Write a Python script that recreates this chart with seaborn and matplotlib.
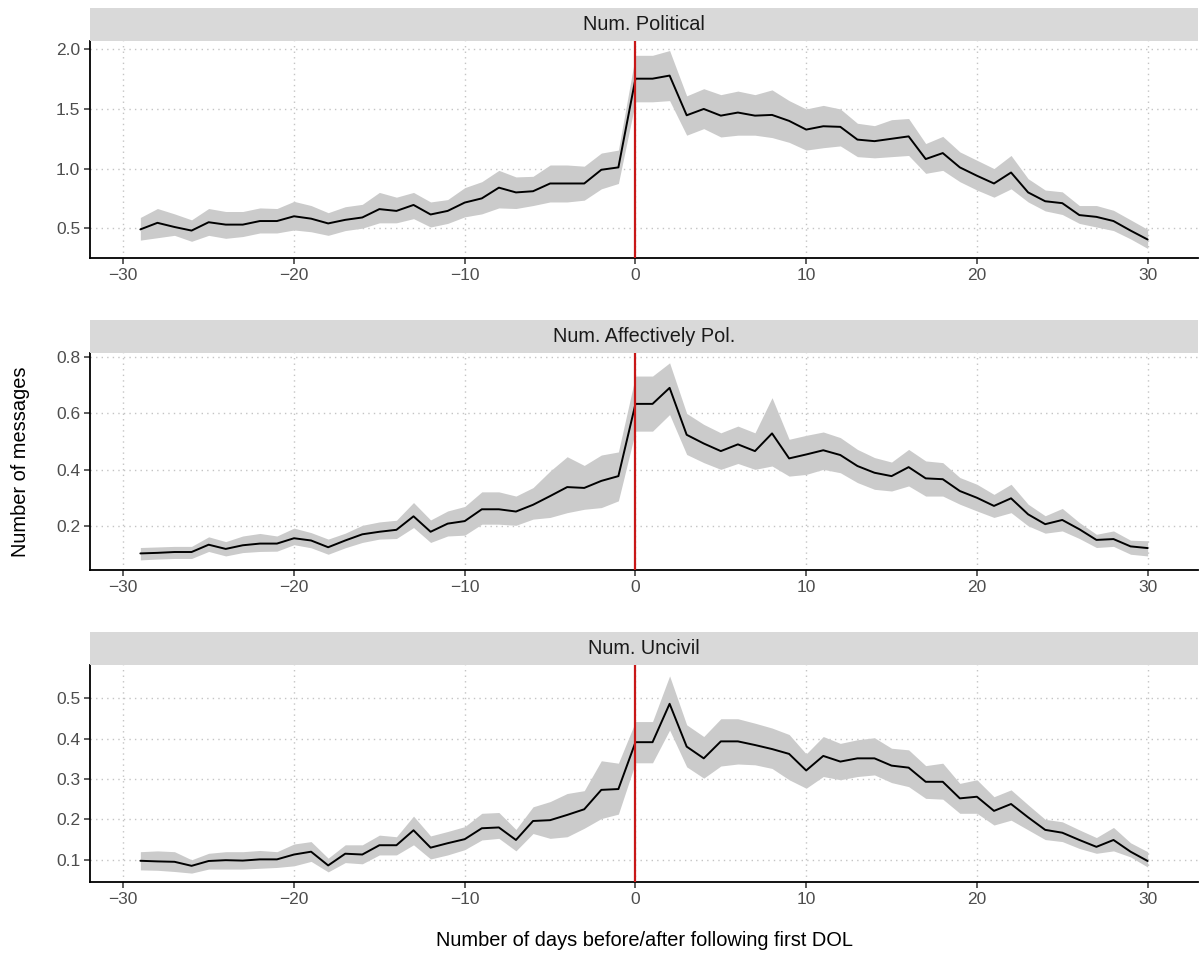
import matplotlib
matplotlib.use("Agg")
import matplotlib.pyplot as plt
import seaborn as sns
import pandas as pd
import numpy as np

# ---------------- data ----------------
days = list(range(-29, 31))

panel_titles = ["Num. Political", "Num. Affectively Pol.", "Num. Uncivil"]

political = [0.49, 0.545, 0.51, 0.48, 0.55, 0.53, 0.53, 0.56, 0.56, 0.60, 0.58, 0.54, 0.57, 0.59, 0.66,
             0.645, 0.695, 0.615, 0.645, 0.715, 0.75, 0.84, 0.80, 0.81, 0.875, 0.875, 0.875, 0.99, 1.01,
             1.754, 1.754, 1.78, 1.447, 1.50, 1.444, 1.47, 1.444, 1.45, 1.40,
             1.327, 1.355, 1.35, 1.243, 1.23, 1.25, 1.27, 1.08, 1.13, 1.01, 0.94, 0.875, 0.967, 0.80,
             0.726, 0.71, 0.61, 0.595, 0.56, 0.48, 0.405]
political_lo = [0.40, 0.42, 0.44, 0.39, 0.44, 0.415, 0.43, 0.46, 0.46, 0.485, 0.47, 0.44, 0.48, 0.50, 0.545,
                0.545, 0.58, 0.51, 0.54, 0.595, 0.62, 0.67, 0.665, 0.69, 0.72, 0.72, 0.735, 0.83, 0.875,
                1.56, 1.56, 1.57, 1.28, 1.335, 1.265, 1.28, 1.28, 1.26, 1.22,
                1.155, 1.175, 1.19, 1.10, 1.09, 1.10, 1.11, 0.96, 0.985, 0.89, 0.82, 0.76, 0.83, 0.72,
                0.645, 0.615, 0.54, 0.51, 0.48, 0.41, 0.33]
political_hi = [0.59, 0.665, 0.62, 0.57, 0.665, 0.64, 0.64, 0.67, 0.665, 0.725, 0.69, 0.63, 0.68, 0.70, 0.80,
                0.76, 0.80, 0.72, 0.74, 0.84, 0.89, 0.985, 0.93, 0.935, 1.03, 1.03, 1.02, 1.13, 1.155,
                1.95, 1.95, 1.99, 1.61, 1.67, 1.62, 1.65, 1.62, 1.66, 1.57,
                1.50, 1.53, 1.50, 1.38, 1.36, 1.41, 1.42, 1.21, 1.27, 1.14, 1.07, 1.00, 1.11, 0.915,
                0.82, 0.805, 0.69, 0.69, 0.65, 0.57, 0.49]

affective = [0.102, 0.104, 0.107, 0.107, 0.133, 0.118, 0.131, 0.137, 0.137, 0.156, 0.148, 0.124, 0.148, 0.17, 0.179,
             0.186, 0.234, 0.179, 0.208, 0.217, 0.259, 0.259, 0.251, 0.275, 0.306, 0.338, 0.335, 0.36, 0.377,
             0.634, 0.634, 0.691, 0.524, 0.493, 0.466, 0.49, 0.466, 0.529, 0.44,
             0.454, 0.469, 0.452, 0.413, 0.389, 0.377, 0.409, 0.369, 0.366, 0.324, 0.30, 0.271, 0.298, 0.241,
             0.206, 0.221, 0.188, 0.15, 0.153, 0.127, 0.121]
affective_lo = [0.079, 0.082, 0.084, 0.084, 0.109, 0.093, 0.105, 0.109, 0.11, 0.133, 0.122, 0.099, 0.122, 0.141, 0.153,
                0.155, 0.194, 0.141, 0.164, 0.167, 0.206, 0.206, 0.202, 0.224, 0.23, 0.247, 0.259, 0.265, 0.289,
                0.537, 0.537, 0.596, 0.454, 0.425, 0.401, 0.422, 0.401, 0.413, 0.377,
                0.383, 0.401, 0.389, 0.354, 0.33, 0.324, 0.342, 0.306, 0.306, 0.277, 0.253, 0.23, 0.247, 0.20,
                0.174, 0.182, 0.155, 0.123, 0.127, 0.099, 0.093]
affective_hi = [0.123, 0.125, 0.127, 0.127, 0.161, 0.144, 0.164, 0.173, 0.164, 0.192, 0.176, 0.153, 0.174, 0.202, 0.214,
                0.22, 0.283, 0.221, 0.253, 0.269, 0.321, 0.321, 0.306, 0.336, 0.395, 0.446, 0.415, 0.452, 0.463,
                0.733, 0.733, 0.78, 0.60, 0.561, 0.531, 0.555, 0.531, 0.656, 0.508,
                0.522, 0.534, 0.514, 0.472, 0.443, 0.427, 0.472, 0.431, 0.425, 0.372, 0.348, 0.312, 0.348, 0.277,
                0.236, 0.262, 0.212, 0.17, 0.182, 0.149, 0.147]

uncivil = [0.0975, 0.096, 0.095, 0.085, 0.097, 0.099, 0.098, 0.101, 0.101, 0.113, 0.12, 0.086, 0.115, 0.113, 0.136,
           0.136, 0.173, 0.13, 0.141, 0.151,
           0.178, 0.18, 0.149, 0.196, 0.198, 0.211, 0.225, 0.273, 0.275,
           0.391, 0.391, 0.486, 0.38, 0.351, 0.393, 0.393, 0.384, 0.374, 0.362,
           0.321, 0.357, 0.343, 0.351, 0.351, 0.333, 0.328, 0.293, 0.293, 0.252, 0.256, 0.221, 0.238, 0.205,
           0.174, 0.167, 0.149, 0.132, 0.149, 0.12, 0.097]
uncivil_lo = [0.075, 0.074, 0.071, 0.067, 0.077, 0.077, 0.077, 0.079, 0.081, 0.085, 0.096, 0.07, 0.093, 0.09, 0.112,
              0.112, 0.137, 0.102, 0.112, 0.125,
              0.149, 0.153, 0.122, 0.165, 0.153, 0.157, 0.178, 0.202, 0.213,
              0.34, 0.34, 0.421, 0.33, 0.302, 0.332, 0.337, 0.335, 0.326, 0.298,
              0.277, 0.306, 0.298, 0.306, 0.31, 0.291, 0.281, 0.252, 0.25, 0.215, 0.215, 0.186, 0.198, 0.174,
              0.15, 0.145, 0.128, 0.116, 0.122, 0.107, 0.082]
uncivil_hi = [0.12, 0.122, 0.12, 0.10, 0.116, 0.12, 0.12, 0.123, 0.12, 0.139, 0.145, 0.104, 0.137, 0.137, 0.161,
              0.157, 0.208, 0.159, 0.17, 0.182,
              0.215, 0.217, 0.175, 0.231, 0.244, 0.264, 0.271, 0.345, 0.339,
              0.442, 0.442, 0.555, 0.434, 0.405, 0.449, 0.449, 0.438, 0.426, 0.41,
              0.362, 0.405, 0.388, 0.397, 0.402, 0.376, 0.372, 0.333, 0.339, 0.289, 0.298, 0.256, 0.273, 0.236,
              0.2, 0.194, 0.174, 0.155, 0.18, 0.142, 0.12]

x_ticks = [-30, -20, -10, 0, 10, 20, 30]
y_ticks = [[0.5, 1.0, 1.5, 2.0], [0.2, 0.4, 0.6, 0.8], [0.1, 0.2, 0.3, 0.4, 0.5]]
y_limits = [(0.25, 2.07), (0.043, 0.815), (0.045, 0.582)]

x_label = "Number of days before/after following first DOL"
y_label = "Number of messages"

# ---------------- style ----------------
sns.set_theme(style="white")
plt.rcParams["font.family"] = ["Liberation Sans", "DejaVu Sans"]

W, H = 1200, 956
fig = plt.figure(figsize=(W / 100, H / 100), dpi=100)

series = [(political, political_lo, political_hi),
          (affective, affective_lo, affective_hi),
          (uncivil, uncivil_lo, uncivil_hi)]
axes_tops = [41, 353, 665]
axes_h = 217
strip_h = 33
left_px, right_px = 90, 1198

band_color = "#CBCBCB"
strip_color = "#D9D9D9"
grid_color = "#C4C4C4"
tick_col = "#4D4D4D"

for i, (vals, lo, hi) in enumerate(series):
    top = axes_tops[i]
    ax = fig.add_axes([left_px / W, (H - top - axes_h) / H, (right_px - left_px) / W, axes_h / H])
    df = pd.DataFrame({"day": days, "value": vals, "lo": lo, "hi": hi})
    ax.fill_between(df["day"], df["lo"], df["hi"], color=band_color, lw=0, zorder=2)
    sns.lineplot(data=df, x="day", y="value", ax=ax, color="black", lw=1.4, zorder=4)
    ax.axvline(0, color="#C81818", lw=1.6, zorder=5)
    ax.set_xlim(-31.95, 32.95)
    ax.set_ylim(*y_limits[i])
    ax.set_xticks(x_ticks)
    ax.set_yticks(y_ticks[i])
    ax.yaxis.set_major_formatter(matplotlib.ticker.FormatStrFormatter("%.1f"))
    ax.grid(True, color=grid_color, lw=1.0, ls=(0, (1, 3)), zorder=0)
    ax.set_axisbelow(True)
    for s in ["top", "right"]:
        ax.spines[s].set_visible(False)
    for s in ["left", "bottom"]:
        ax.spines[s].set_color("black")
        ax.spines[s].set_linewidth(1.3)
    ax.tick_params(axis="both", which="major", length=4, width=1.1, color="#333333",
                   labelsize=12.5, labelcolor=tick_col, pad=3, bottom=True, left=True)
    ax.set_xlabel("")
    ax.set_ylabel("")
    # strip
    sax = fig.add_axes([left_px / W, (H - top) / H, (right_px - left_px) / W, strip_h / H])
    sax.set_facecolor(strip_color)
    for s in sax.spines.values():
        s.set_visible(False)
    sax.set_xticks([])
    sax.set_yticks([])
    sax.text(0.5, 0.5, panel_titles[i], ha="center", va="center", fontsize=14.3, color="#1A1A1A",
             transform=sax.transAxes)

fig.text(644 / W, 1 - 940 / H, x_label, ha="center", va="center", fontsize=14.4, color="black")
fig.text(21 / W, 1 - 462 / H, y_label, ha="center", va="center", rotation=90, fontsize=14.4, color="black")

fig.savefig("out.png", dpi=100)
